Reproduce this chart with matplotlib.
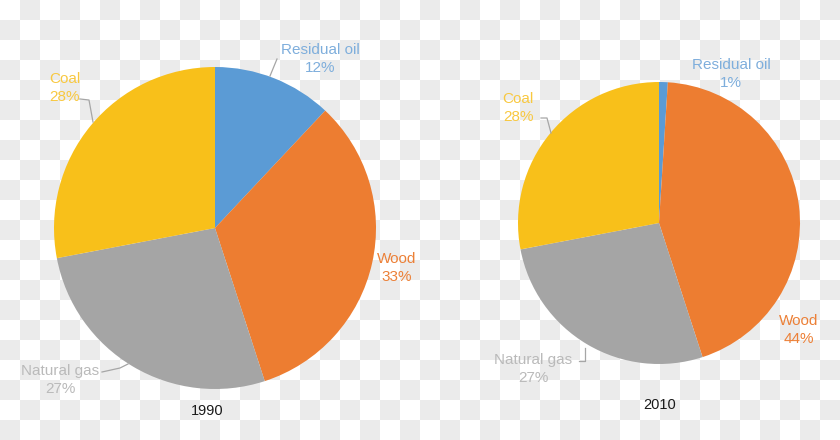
import numpy as np
import matplotlib.pyplot as plt
from matplotlib.colors import ListedColormap

plt.rcParams['font.family'] = ['Liberation Sans', 'DejaVu Sans']

categories = ["Residual oil", "Wood", "Natural gas", "Coal"]
share_1990 = [12, 33, 27, 28]
share_2010 = [1, 44, 27, 28]
years = ["1990", "2010"]

slice_colors = ["#5b9bd5", "#ed7d31", "#a5a5a5", "#f8c01a"]
text_colors = ["#7eaedc", "#ec8037", "#bababa", "#f8c840"]

W, H = 840, 440

# pie layout in pixel coords (y from top)
pies = [
    dict(values=share_1990, center=(215, 228), radius=161, year_pos=(207, 411),
         label_pos=[(320, 59), (397, 268), (60, 380), (65, 88)],
         leaders=[[(270, 76), (277, 59)], None,
                  [(102, 372), (120, 368), (128, 364)],
                  [(80, 99), (89, 100), (93, 122)]]),
    dict(values=share_2010, center=(659, 223), radius=141, year_pos=(660, 405),
         label_pos=[(731, 74), (799, 330), (533, 369), (518, 108)],
         leaders=[None, None,
                  [(579, 361), (585, 361), (585, 348)],
                  [(541, 118), (547, 118), (551, 133)]]),
]

fig = plt.figure(figsize=(W / 100, H / 100), dpi=100)
ax = fig.add_axes([0, 0, 1, 1])

# transparent-style checkerboard background
cells = 20
rows, cols = H // cells, W // cells
board = (np.add.outer(np.arange(rows), np.arange(cols)) % 2)
ax.imshow(board, cmap=ListedColormap(["#ffffff", "#ebebeb"]), extent=(0, W, 0, H),
          origin="upper", interpolation="nearest", zorder=0)

for p, year in zip(pies, years):
    cx, cy = p["center"]
    ax.pie(p["values"], colors=slice_colors, startangle=90, counterclock=False,
           center=(cx, H - cy), radius=p["radius"], frame=True,
           wedgeprops=dict(linewidth=0))
    for cat, val, (lx, ly), col, lead in zip(categories, p["values"], p["label_pos"],
                                           text_colors, p["leaders"]):
        ax.text(lx, H - ly, f"{cat}\n{val}%", ha="center", va="center",
                fontsize=11, color=col, linespacing=1.35, zorder=5)
        if lead:
            xs = [pt[0] for pt in lead]
            ys = [H - pt[1] for pt in lead]
            ax.plot(xs, ys, color="#a6a6a6", lw=0.9, zorder=4)
    yx, yy = p["year_pos"]
    ax.text(yx, H - yy, year, ha="center", va="center", fontsize=10.5, color="#1a1a1a")

ax.set_xlim(0, W)
ax.set_ylim(0, H)
ax.set_aspect("equal")
ax.axis("off")

fig.savefig("out.png", dpi=100)
